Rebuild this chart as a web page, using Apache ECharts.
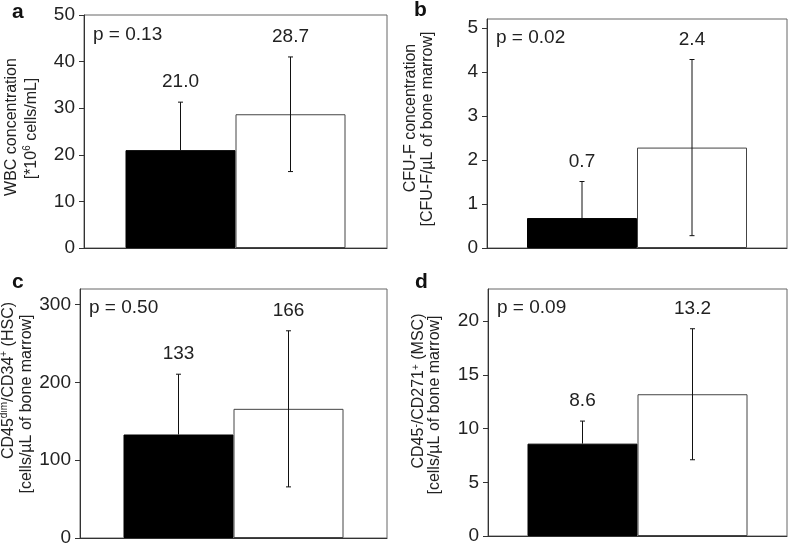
<!DOCTYPE html>
<html>
<head>
<meta charset="utf-8">
<script src="https://cdn.jsdelivr.net/npm/echarts@6/dist/echarts.min.js"></script>
<style>html,body{margin:0;padding:0;background:#fff}#c{width:795px;height:550px}</style>
</head>
<body>
<div id="c"></div>
<script>
// ---- data ----
const groups = ['group 1', 'group 2'];
const wbcMean = [21.0, 28.7];
const wbcSD = [10.3, 12.3];
const wbcLabels = ['21.0', '28.7'];
const wbcTicks = [0, 10, 20, 30, 40, 50];

const cfuMean = [0.68, 2.28];
const cfuSD = [0.83, 2.0];
const cfuLabels = ['0.7', '2.4'];
const cfuTicks = [0, 1, 2, 3, 4, 5];

const hscMean = [133, 166];
const hscSD = [77.5, 100.3];
const hscLabels = ['133', '166'];
const hscTicks = [0, 100, 200, 300];

const mscMean = [8.6, 13.2];
const mscSD = [2.1, 6.1];
const mscLabels = ['8.6', '13.2'];
const mscTicks = [0, 5, 10, 15, 20];

const pValues = ['p = 0.13', 'p = 0.02', 'p = 0.50', 'p = 0.09'];
const panelLetters = ['a', 'b', 'c', 'd'];

const FONT = 'Liberation Sans, Arial, sans-serif';

const panels = [
  {mean: wbcMean, sd: wbcSD, labels: wbcLabels, ticks: wbcTicks, max: 50,
   name: '{s1| }WBC concentration\n{s2| }[*10{sup|6} cells/mL]', gap: 42, lh: 20, sp: [9, 6],
   grid: {left: 84, top: 15, right: 408, bottom: 302}},
  {mean: cfuMean, sd: cfuSD, labels: cfuLabels, ticks: cfuTicks, max: 5.2,
   name: '{s1| }CFU-F concentration\n{s2| }[CFU-F/µL of bone marrow]', gap: 51, lh: 17, sp: [31, 9],
   grid: {left: 487, top: 19, right: 8, bottom: 302}},
  {mean: hscMean, sd: hscSD, labels: hscLabels, ticks: hscTicks, max: 320,
   name: '{s1| }CD45{sup|dim}/CD34{sup|+} (HSC)\n{s2| }[cells/µL of bone marrow]', gap: 40, lh: 18, sp: [66, 19],
   grid: {left: 80, top: 289, right: 408, bottom: 12}},
  {mean: mscMean, sd: mscSD, labels: mscLabels, ticks: mscTicks, max: 23,
   name: '{s1| }CD45{sup|-}/CD271{sup|+} (MSC)\n{s2| }[cells/µL of bone marrow]', gap: 45, lh: 16, sp: [43, 15],
   grid: {left: 488, top: 289, right: 8, bottom: 14}}
];

const BAR_W = 110;

const grids = [], xAxes = [], yAxes = [], series = [], graphics = [];
panels.forEach((p, i) => {
  grids.push(Object.assign({show: true, borderColor: '#666', borderWidth: 1, backgroundColor: 'transparent',
    containLabel: false, outerBoundsMode: 'none'}, p.grid));
  xAxes.push({type: 'category', gridIndex: i, data: ['x'],
    axisLine: {show: true, lineStyle: {color: '#333'}}, axisTick: {show: false}, axisLabel: {show: false}});
  yAxes.push({type: 'value', gridIndex: i, min: 0, max: p.max,
    name: p.name, nameLocation: 'middle', nameGap: p.gap,
    nameTextStyle: {fontFamily: FONT, fontSize: 16, color: '#222', lineHeight: p.lh,
      rich: {
        sup: {fontSize: 10, verticalAlign: 'top', lineHeight: p.lh, fontFamily: FONT, color: '#222'},
        s1: {width: p.sp[0], fontSize: 16, lineHeight: p.lh},
        s2: {width: p.sp[1], fontSize: 16, lineHeight: p.lh}
      }},
    splitLine: {show: false},
    axisLine: {show: true, lineStyle: {color: '#333'}},
    axisTick: {show: true, length: 5, lineStyle: {color: '#333'}, customValues: p.ticks},
    axisLabel: {fontFamily: FONT, fontSize: 19, color: '#222', margin: 9, customValues: p.ticks}});
  series.push({type: 'bar', xAxisIndex: i, yAxisIndex: i, name: groups[0], data: [p.mean[0]],
    barWidth: BAR_W, barGap: '0%', itemStyle: {color: '#000', borderColor: '#000', borderWidth: 1}, z: 2});
  series.push({type: 'bar', xAxisIndex: i, yAxisIndex: i, name: groups[1], data: [p.mean[1]],
    barWidth: BAR_W, barGap: '0%', itemStyle: {color: '#fff', borderColor: '#444', borderWidth: 1}, z: 2});
  series.push({type: 'custom', xAxisIndex: i, yAxisIndex: i, z: 5,
    data: p.mean.map((m, g) => [0, m, p.sd[g], g]),
    renderItem: function (params, api) {
      const g = api.value(3), m = api.value(1), s = api.value(2);
      const base = api.coord([0, m]);
      const x = base[0] + (g === 0 ? -BAR_W / 2 : BAR_W / 2);
      const top = api.coord([0, m + s])[1];
      const ls = {stroke: '#111', lineWidth: 1};
      const children = [
        {type: 'line', shape: {x1: x - 2.5, y1: top, x2: x + 2.5, y2: top}, style: ls},
        {type: 'text', style: {text: p.labels[params.dataIndex], x: x, y: top - 20,
          align: 'center', verticalAlign: 'middle', font: '19px ' + FONT, fill: '#222'}}
      ];
      if (g === 0) {
        // lower whisker lies inside the black bar and is not visible
        children.push({type: 'line', shape: {x1: x, y1: top, x2: x, y2: base[1]}, style: ls});
      } else {
        const bot = api.coord([0, m - s])[1];
        children.push({type: 'line', shape: {x1: x, y1: top, x2: x, y2: bot}, style: ls});
        children.push({type: 'line', shape: {x1: x - 2.5, y1: bot, x2: x + 2.5, y2: bot}, style: ls});
      }
      return {type: 'group', children: children};
    }});
  graphics.push({type: 'text', left: p.grid.left + 9, top: p.grid.top + (i === 1 ? 9 : (i === 0 ? 10 : 9)),
    style: {text: pValues[i], font: '19px ' + FONT, fill: '#222'}});
});
graphics.push({type: 'text', left: 12, top: 2, style: {text: panelLetters[0], font: 'bold 21px ' + FONT, fill: '#111'}});
graphics.push({type: 'text', left: 414, top: 0, style: {text: panelLetters[1], font: 'bold 21px ' + FONT, fill: '#111'}});
graphics.push({type: 'text', left: 12, top: 272, style: {text: panelLetters[2], font: 'bold 21px ' + FONT, fill: '#111'}});
graphics.push({type: 'text', left: 415, top: 272, style: {text: panelLetters[3], font: 'bold 21px ' + FONT, fill: '#111'}});

const chart = echarts.init(document.getElementById('c'), null, {renderer: 'canvas'});
chart.setOption({
  animation: false,
  backgroundColor: '#fff',
  grid: grids, xAxis: xAxes, yAxis: yAxes, series: series, graphic: graphics
});
</script>
</body>
</html>
